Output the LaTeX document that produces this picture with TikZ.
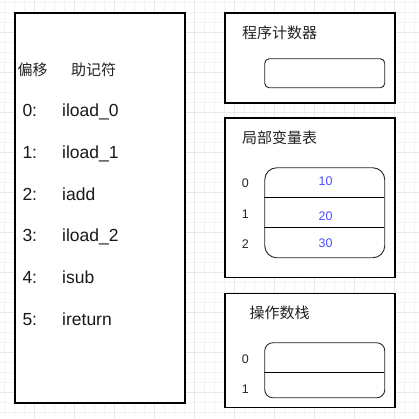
\documentclass[tikz,border=0pt]{standalone}
\usepackage{fontspec}
\setmainfont{Liberation Sans}
\newfontfamily\cjk{Noto Sans CJK SC}
\definecolor{gridminor}{HTML}{F4F4F4}
\definecolor{gridmajor}{HTML}{E8E8E8}
\definecolor{valblue}{HTML}{4D4DFF}
\definecolor{cjkgray}{HTML}{222222}
\begin{document}
\begin{tikzpicture}[x=1pt,y=-1pt,
  outerbox/.style={draw=black, fill=white, line width=1.3pt, inner sep=0pt, anchor=north west},
  slotbox/.style={draw=black!85, fill=white, line width=0.9pt, inner sep=0pt, anchor=north west},
  codetxt/.style={inner sep=0pt, anchor=base west, font=\fontsize{17.5}{20}\selectfont, text=black!90},
  cjktxt/.style={inner sep=0pt, anchor=base west, font=\cjk\fontsize{15}{17}\selectfont, text=cjkgray},
  idxtxt/.style={inner sep=0pt, anchor=base west, font=\fontsize{12.5}{14}\selectfont, text=black!85},
  valtxt/.style={inner sep=0pt, anchor=base, font=\fontsize{12.5}{14}\selectfont, text=valblue}]
\useasboundingbox (0,0) rectangle (419,418);
\fill[white] (0,0) rectangle (419,418);
% grid
\foreach \gx in {4,14,...,414} \draw[gridminor, line width=0.8pt] (\gx,0) -- (\gx,418);
\foreach \gy in {2,12,...,412} \draw[gridminor, line width=0.8pt] (0,\gy) -- (419,\gy);
\foreach \gx in {34,74,...,394} \draw[gridmajor, line width=0.8pt] (\gx,0) -- (\gx,418);
\foreach \gy in {32,72,...,392} \draw[gridmajor, line width=0.8pt] (0,\gy) -- (419,\gy);
% left code box
\node[outerbox, minimum width=170pt, minimum height=390pt] (code) at (14.3,12.3) {};
\node[cjktxt] (hoff) at (17.3,75) {偏移};
\node[cjktxt] (hmn) at (71,75) {助记符};
\node[codetxt] (o0) at (22.3,116.5) {0:};
\node[codetxt] (m0) at (62,116.5) {iload\_0};
\node[codetxt] (o1) at (22.3,158.3) {1:};
\node[codetxt] (m1) at (62,158.3) {iload\_1};
\node[codetxt] (o2) at (22.3,200) {2:};
\node[codetxt] (m2) at (62,200) {iadd};
\node[codetxt] (o3) at (22.3,241.7) {3:};
\node[codetxt] (m3) at (62,241.7) {iload\_2};
\node[codetxt] (o4) at (22.3,283.3) {4:};
\node[codetxt] (m4) at (62,283.3) {isub};
\node[codetxt] (o5) at (22.3,325) {5:};
\node[codetxt] (m5) at (62,325) {ireturn};
% program counter
\node[outerbox, minimum width=170pt, minimum height=90pt] (pc) at (224.3,12.3) {};
\node[cjktxt] (pct) at (242,38.3) {程序计数器};
\node[slotbox, rounded corners=4.5pt, minimum width=120pt, minimum height=29pt] (pcv) at (264.3,58.3) {};
% local variable table
\node[outerbox, minimum width=170pt, minimum height=159.4pt] (lvt) at (224.3,117.3) {};
\node[cjktxt] (lvtt) at (242,143.3) {局部变量表};
\node[slotbox, rounded corners=12pt, minimum width=120pt, minimum height=90pt] (lv) at (264.3,167.3) {};
\coordinate (lva) at (264.3,197.3);
\coordinate (lvb) at (384.3,197.3);
\coordinate (lvc) at (264.3,227.3);
\coordinate (lvd) at (384.3,227.3);
\draw[line width=0.9pt] (lva) -- (lvb);
\draw[line width=0.9pt] (lvc) -- (lvd);
\node[idxtxt] (li0) at (241.7,187.7) {0};
\node[idxtxt] (li1) at (241.7,218.3) {1};
\node[idxtxt] (li2) at (241.7,248.3) {2};
\node[valtxt] (lv0) at (325.5,185) {10};
\node[valtxt] (lv1) at (325.5,220) {20};
\node[valtxt] (lv2) at (325.5,247.7) {30};
% operand stack
\node[outerbox, minimum width=170pt, minimum height=114.3pt] (ops) at (224.3,292.7) {};
\node[cjktxt] (opst) at (249.3,318.3) {操作数栈};
\node[slotbox, rounded corners=8pt, minimum width=120pt, minimum height=55pt] (os) at (264.3,342.3) {};
\coordinate (osa) at (264.3,372.3);
\coordinate (osb) at (384.3,372.3);
\draw[line width=0.9pt] (osa) -- (osb);
\node[idxtxt] (oi0) at (241.7,363.3) {0};
\node[idxtxt] (oi1) at (241.7,393.3) {1};
\end{tikzpicture}
\end{document}
